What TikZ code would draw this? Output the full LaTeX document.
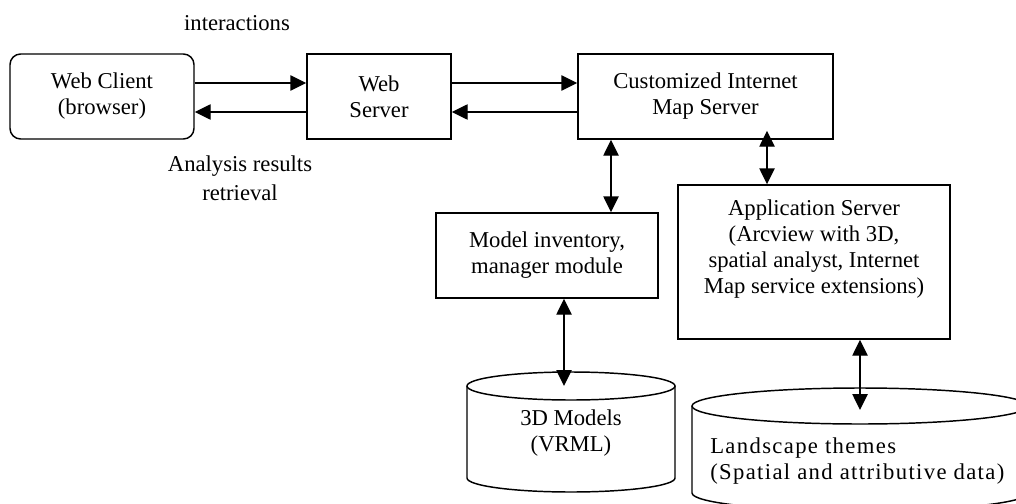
\documentclass[tikz,border=0pt]{standalone}
\usepackage{fontspec}
\setmainfont{Liberation Serif}
\newfontfamily\widefont[LetterSpace=6]{Liberation Serif}
\usetikzlibrary{arrows.meta,calc}
\begin{document}
\begin{tikzpicture}[x=0.75pt,y=-0.75pt,
  every node/.style={font=\fontsize{17pt}{19.5pt}\selectfont},
  box/.style={draw, line width=1.1pt, inner sep=0pt, align=center, minimum height=63.75pt},
  lbl/.style={align=center, inner sep=0pt},
  arr/.style={line width=1.1pt, -{Triangle[length=12pt,width=11.5pt]}},
  dbl/.style={line width=1.1pt, {Triangle[length=12pt,width=11.5pt]}-{Triangle[length=12pt,width=11.5pt]}},
  cyl/.style={line width=1.1pt}]
\useasboundingbox (0,0) rectangle (1016,503);
\clip (0,0) rectangle (1016,503);

\node[box, rounded corners=8pt, minimum width=138pt] (client) at (102,96.5) {Web Client\\(browser)};
\node[box, minimum width=108pt] (webserver) at (379,96.5) {Web\\Server};
\node[box, minimum width=191.25pt] (cims) at (705.5,96.5) {Customized Internet\\Map Server};
\node[box, minimum width=166.5pt] (model) at (547,255.5) {Model inventory,\\manager module};
\node[box, minimum width=204pt, minimum height=115.5pt] (app) at (814,262) {};
\node[lbl] (apptext) at (814,249) {Application Server\\(Arcview with 3D,\\spatial analyst, Internet\\Map service extensions)};

\node[lbl] (inter) at (237,23) {interactions};
\node[lbl, font=\fontsize{17pt}{21.5pt}\selectfont] (analysis) at (240,178) {Analysis results\\retrieval};

% 3D models cylinder
\draw[cyl] (571,386) ellipse[x radius=104, y radius=14];
\draw[cyl] (467,386) -- (467,478) arc[start angle=180, end angle=0, x radius=104, y radius=14] -- (675,386);
\node[lbl] (m3d) at (571,433) {3D Models\\(VRML)};
\coordinate (m3dtop) at (564,386);

% Landscape cylinder
\draw[cyl] (860,406) ellipse[x radius=168, y radius=18];
\draw[cyl] (692,406) -- (692,493) arc[start angle=180, end angle=0, x radius=168, y radius=18] -- (1028,406);
\node[lbl, align=left, anchor=west, font=\widefont\fontsize{17pt}{19.5pt}\selectfont] (land) at (710,461) {Landscape themes\\(Spatial and attributive data)};
\coordinate (landtop) at (860,410);

% horizontal connectors
\draw[arr] ($(client.east)+(0,-13.5)$) -- ($(webserver.west)+(0,-13.5)$);
\draw[arr] ($(webserver.west)+(0,15.5)$) -- ($(client.east)+(0,15.5)$);
\draw[arr] ($(webserver.east)+(0,-13.5)$) -- ($(cims.west)+(0,-13.5)$);
\draw[arr] ($(cims.west)+(0,15.5)$) -- ($(webserver.east)+(0,15.5)$);

% vertical connectors
\draw[dbl] ($(model.north)+(64,0)$) coordinate (a1) -- (a1 |- cims.south);
\draw[dbl] ($(app.north)+(-47,0)$) coordinate (a2) -- ($(a2 |- cims.south)+(0,-9)$);
\draw[dbl] (model.south -| m3dtop) -- (m3dtop);
\draw[dbl] (app.south -| landtop) -- (landtop);
\end{tikzpicture}
\end{document}
